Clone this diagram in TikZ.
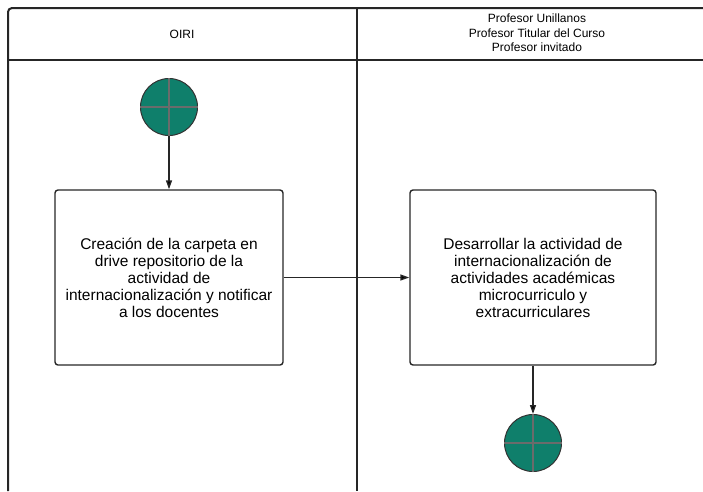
\documentclass[tikz,border=0pt]{standalone}
\usepackage{fontspec}
\setmainfont{Liberation Sans}
\usetikzlibrary{arrows.meta,positioning}

\definecolor{tealfill}{HTML}{0F7F6B}
\definecolor{crossgray}{HTML}{6B6B6B}

\begin{document}
\begin{tikzpicture}[x=1pt,y=-1pt,>={Triangle[length=9pt,width=6pt]},
  line width=1.4pt,
  lane/.style={draw=black!85,line width=2pt},
  act node/.style={draw=black!85,rounded corners=3pt,minimum width=228pt,minimum height=175pt,
    align=center,font=\fontsize{15.5}{17}\selectfont},
  state node/.style={circle,fill=tealfill,draw=black!80,line width=1pt,minimum size=57pt,inner sep=0pt},
  head/.style={align=center,font=\fontsize{12}{14.5}\selectfont}]
  \useasboundingbox (0,0) rectangle (703,491);

  % swimlanes
  \draw[lane,rounded corners=4pt] (8,491) -- (8,8) -- (705,8);
  \draw[lane] (8,60) -- (705,60);
  \draw[lane] (357,8) -- (357,491);
  \node[head] (h1) at (182,34) {OIRI};
  \node[head] (h2) at (537,33) {Profesor Unillanos\\Profesor Titular del Curso\\Profesor invitado};

  % nodes
  \node[state node] (start) at (169,107) {};
  \node[act node] (crea) at (169,277.5) {Creación de la carpeta en\\drive repositorio de la\\actividad de\\internacionalización y notificar\\a los docentes};
  \node[act node,minimum width=246pt] (desa) at (533,277.5) {Desarrollar la actividad de\\internacionalización de\\actividades académicas\\microcurriculo y\\extracurriculares};
  \node[state node] (stop) at (533,443) {};

  % cross lines in states
  \foreach \s in {start,stop}{
    \draw[crossgray,line width=1.2pt] (\s.north) -- (\s.south);
    \draw[crossgray,line width=1.2pt] (\s.west) -- (\s.east);
  }

  % flow
  \path[->,draw=black!85]
    (start) edge (crea)
    (crea) edge (desa)
    (desa) edge (stop);
\end{tikzpicture}
\end{document}
